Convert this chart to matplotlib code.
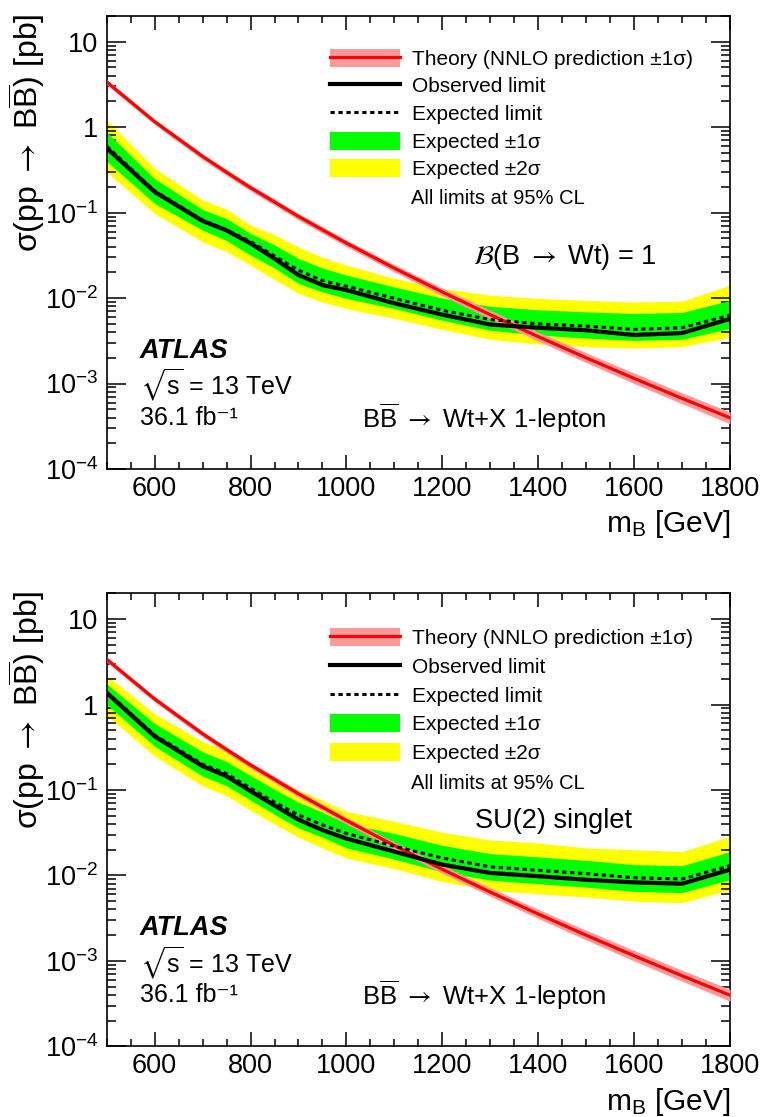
import matplotlib
matplotlib.use('Agg')
import matplotlib.pyplot as plt
from matplotlib.patches import Patch
from matplotlib.lines import Line2D
from matplotlib.ticker import FixedLocator, FuncFormatter, NullFormatter

plt.rcParams['font.family'] = ['Liberation Sans', 'DejaVu Sans']
plt.rcParams['mathtext.fontset'] = 'custom'
plt.rcParams['mathtext.rm'] = 'Liberation Sans'
plt.rcParams['mathtext.it'] = 'Liberation Sans:italic'
plt.rcParams['mathtext.bf'] = 'Liberation Sans:bold'
plt.rcParams['mathtext.sf'] = 'Liberation Sans'

# ---------------- data ----------------
mass = [500, 600, 700, 750, 800, 850, 900, 950, 1000, 1100, 1200, 1300, 1400, 1500, 1600, 1700, 1800]

theory = [3.38, 1.16, 0.455, 0.297, 0.196, 0.133, 0.0903, 0.063, 0.044, 0.0224, 0.0118,
          0.00639, 0.00354, 0.0020, 0.00115, 0.000671, 0.000397]
theory_hi = [3.62, 1.245, 0.49, 0.32, 0.212, 0.145, 0.098, 0.0686, 0.048, 0.0246, 0.0131,
             0.0072, 0.00402, 0.00229, 0.00133, 0.00078, 0.000465]
theory_lo = [3.14, 1.075, 0.42, 0.273, 0.180, 0.122, 0.0826, 0.0574, 0.040, 0.0203, 0.0106,
             0.00572, 0.00314, 0.00176, 0.00100, 0.00058, 0.000338]

# top panel: B(B->Wt)=1
obs_wt = [0.57, 0.175, 0.080, 0.062, 0.0437, 0.029, 0.0186, 0.0142, 0.0124, 0.0087, 0.0064,
          0.0049, 0.0045, 0.0042, 0.0037, 0.0039, 0.0057]
exp_wt = [0.60, 0.18, 0.082, 0.063, 0.046, 0.031, 0.0212, 0.016, 0.0138, 0.0099, 0.0072,
          0.0056, 0.0050, 0.0047, 0.0043, 0.0045, 0.0063]
p1_wt = [0.88, 0.25, 0.109, 0.085, 0.0572, 0.042, 0.0291, 0.0225, 0.0186, 0.0135, 0.0100,
         0.0080, 0.0073, 0.0069, 0.0066, 0.0068, 0.0094]
p2_wt = [1.22, 0.33, 0.141, 0.11, 0.0716, 0.055, 0.0398, 0.030, 0.0243, 0.017, 0.0130,
         0.0108, 0.0099, 0.0094, 0.0090, 0.0092, 0.0142]
m1_wt = [0.40, 0.128, 0.0625, 0.047, 0.0318, 0.0225, 0.0148, 0.0118, 0.0099, 0.00755, 0.0055,
         0.0042, 0.0037, 0.0034, 0.0032, 0.0033, 0.0044]
m2_wt = [0.30, 0.098, 0.0456, 0.035, 0.0243, 0.0165, 0.0113, 0.0090, 0.00755, 0.0058, 0.0043,
         0.0033, 0.0029, 0.0027, 0.0026, 0.0027, 0.0035]

# bottom panel: SU(2) singlet
obs_s = [1.37, 0.425, 0.19, 0.145, 0.097, 0.066, 0.045, 0.034, 0.027, 0.019, 0.0134,
         0.0107, 0.0098, 0.0089, 0.0083, 0.0080, 0.0117]
exp_s = [1.40, 0.44, 0.20, 0.155, 0.105, 0.072, 0.051, 0.039, 0.031, 0.022, 0.016,
         0.0126, 0.0115, 0.0105, 0.0094, 0.0091, 0.0130]
p1_s = [1.75, 0.60, 0.28, 0.215, 0.148, 0.102, 0.072, 0.055, 0.0405, 0.031, 0.0225,
        0.0180, 0.0165, 0.015, 0.0134, 0.013, 0.019]
p2_s = [2.2, 0.78, 0.37, 0.29, 0.20, 0.14, 0.10, 0.076, 0.056, 0.043, 0.032,
        0.026, 0.024, 0.021, 0.020, 0.019, 0.0287]
m1_s = [1.0, 0.325, 0.145, 0.112, 0.076, 0.052, 0.036, 0.028, 0.021, 0.0155, 0.011,
        0.0088, 0.0080, 0.0073, 0.0065, 0.0063, 0.0089]
m2_s = [0.75, 0.25, 0.112, 0.086, 0.058, 0.040, 0.028, 0.021, 0.016, 0.012, 0.0085,
        0.0067, 0.0061, 0.0056, 0.0050, 0.0048, 0.0068]

x_ticks = [600, 800, 1000, 1200, 1400, 1600, 1800]
y_ticks = [1e-4, 1e-3, 1e-2, 1e-1, 1, 10]
y_ticklabels = [r'$10^{-4}$', r'$10^{-3}$', r'$10^{-2}$', r'$10^{-1}$', '1', '10']

legend_labels = [u'Theory (NNLO prediction \u00b11\u03c3)', 'Observed limit', 'Expected limit',
                 u'Expected \u00b11\u03c3', u'Expected \u00b12\u03c3']

# ---------------- style ----------------
C_YEL = '#ffff00'
C_GRN = '#00ff00'
C_RED = '#ff0000'
C_PINK = '#f89a9a'

fig = plt.figure(figsize=(7.62, 11.17), dpi=100)
W, H = 762.0, 1117.0

def axes_rect(left, right, top, bottom):
    return [left / W, 1 - bottom / H, (right - left) / W, (bottom - top) / H]

ax_top = fig.add_axes(axes_rect(106.7, 730.0, 16.0, 469.0))
ax_bot = fig.add_axes(axes_rect(106.7, 730.0, 593.3, 1046.4))


def draw_panel(ax, obs, exp, p1, p2, m1, m2, model_text, model_pos, model_math,
               leg_y, leg_sp, note_y):
    ax.fill_between(mass, m2, p2, color=C_YEL, lw=0, zorder=1)
    ax.fill_between(mass, m1, p1, color=C_GRN, lw=0, zorder=2)
    ax.fill_between(mass, theory_lo, theory_hi, color=C_PINK, lw=0, zorder=3)
    ax.plot(mass, theory, color=C_RED, lw=2.3, zorder=4)
    ax.plot(mass, exp, color='black', lw=2.2, ls=(0, (1.4, 1.2)), zorder=5)
    ax.plot(mass, obs, color='black', lw=3.0, zorder=6)

    ax.set_yscale('log')
    ax.set_xlim(500, 1800)
    ax.set_ylim(1e-4, 20)

    ax.xaxis.set_major_locator(FixedLocator(x_ticks))
    ax.xaxis.set_minor_locator(FixedLocator(list(range(500, 1801, 50))))
    ax.yaxis.set_major_locator(FixedLocator(y_ticks))
    minors = [k * 10.0 ** e for e in range(-4, 2) for k in range(2, 10)]
    ax.yaxis.set_minor_locator(FixedLocator(minors))
    ax.yaxis.set_major_formatter(FuncFormatter(
        lambda v, p: y_ticklabels[y_ticks.index(min(y_ticks, key=lambda t: abs(t - v)))]))
    ax.yaxis.set_minor_formatter(NullFormatter())
    ax.set_xticklabels([str(t) for t in x_ticks])

    ax.tick_params(axis='both', which='both', direction='in', top=True, right=True,
                   width=1.1, colors='black')
    ax.tick_params(axis='x', which='major', length=10, pad=5, labelsize=19.5)
    ax.tick_params(axis='x', which='minor', length=5)
    ax.tick_params(axis='y', which='major', length=13.5, pad=6, labelsize=19.5)
    ax.tick_params(axis='y', which='minor', length=6.5)
    for s in ax.spines.values():
        s.set_linewidth(1.2)

    ax.set_xlabel(r'm$_{\mathdefault{B}}$ [GeV]', fontsize=21.5, ha='right', va='center')
    ax.xaxis.set_label_coords(1.0, -0.122)
    ax.set_ylabel(u'\u03c3(pp $\\rightarrow$ B$\\overline{\\mathdefault{B}}$) [pb]', fontsize=23,
                  ha='center', va='top', math_fontfamily='stixsans')
    ax.yaxis.label.set_rotation_mode('default')
    ax.yaxis.set_label_coords(-0.128, 1.006)

    handles = [(Patch(facecolor=C_PINK, edgecolor='none'), Line2D([], [], color=C_RED, lw=2.3)),
               Line2D([], [], color='black', lw=3.0),
               Line2D([], [], color='black', lw=2.2, ls=(0, (1.4, 1.2))),
               Patch(facecolor=C_GRN, edgecolor='none'),
               Patch(facecolor=C_YEL, edgecolor='none')]
    leg = ax.legend(handles, legend_labels, loc='upper left', bbox_to_anchor=(0.358, leg_y),
                    frameon=False, fontsize=15, handlelength=3.36, handleheight=0.95,
                    handletextpad=0.6, labelspacing=leg_sp, borderpad=0, borderaxespad=0)
    leg.set_zorder(10)
    ax.text(0.488, note_y, 'All limits at 95% CL', transform=ax.transAxes, fontsize=14.5,
            ha='left', va='center', zorder=10)

    ax.text(0.0534, 0.2607, 'ATLAS', transform=ax.transAxes, fontsize=19.5,
            fontweight='bold', fontstyle='italic', ha='left', va='center')
    ax.text(0.0534, 0.1856, r'$\sqrt{\mathdefault{s}}$ = 13 TeV', transform=ax.transAxes,
            fontsize=18, ha='left', va='center', math_fontfamily='stixsans')
    ax.text(0.0534, 0.1127, u'36.1 fb\u207b\u00b9', transform=ax.transAxes, fontsize=18,
            ha='left', va='center')
    ax.text(0.4096, 0.1127, u'B$\\overline{\\mathdefault{B}}$ $\\rightarrow$ Wt+X 1-lepton',
            transform=ax.transAxes, fontsize=18.5, ha='left', va='center',
            math_fontfamily='stixsans')
    ax.text(model_pos[0], model_pos[1], model_text, transform=ax.transAxes, fontsize=19.5,
            ha='left', va='center', zorder=10, math_fontfamily=model_math)


draw_panel(ax_top, obs_wt, exp_wt, p1_wt, p2_wt, m1_wt, m2_wt,
           r'$\mathcal{B}$(B $\rightarrow$ Wt) = 1', (0.5877, 0.468), 'stix',
           0.928, 0.36, 0.597)
draw_panel(ax_bot, obs_s, exp_s, p1_s, p2_s, m1_s, m2_s,
           'SU(2) singlet', (0.591, 0.4975), 'stixsans',
           0.923, 0.41, 0.58)

fig.savefig('out.png', dpi=100)
